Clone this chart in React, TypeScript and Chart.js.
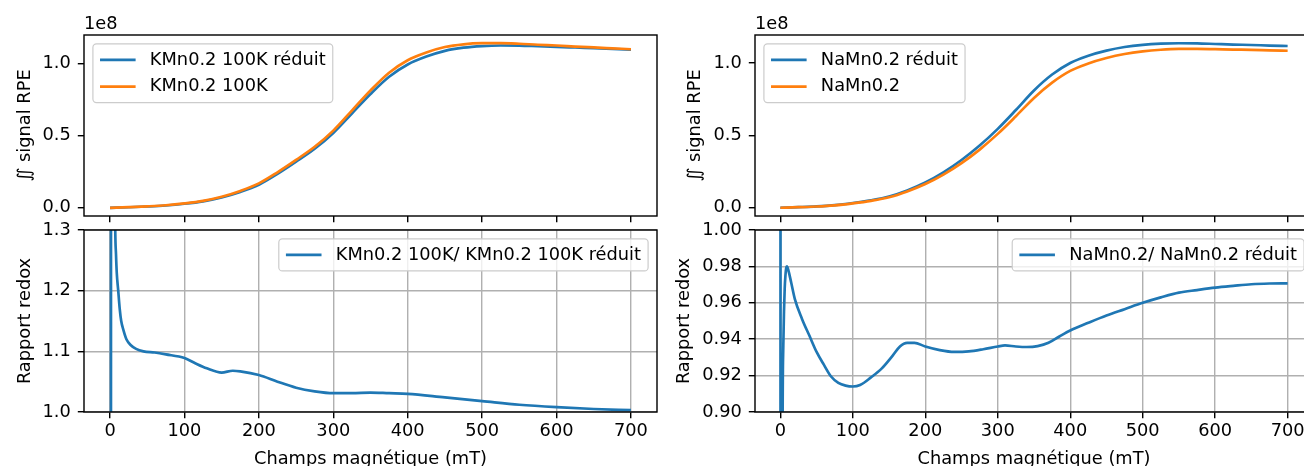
import React, { useEffect, useRef } from 'react';
import { Chart, registerables } from 'chart.js';

Chart.register(...registerables);

// ---- Data (integrated EPR signal in units of 1e8) ----
const fieldTop = [0, 25, 50, 75, 100, 125, 150, 175, 200, 225, 250, 275, 300, 325, 350, 375, 400, 425, 450, 475, 500, 525, 550, 575, 600, 625, 650, 675, 700];
const kmnReduit = [0, 0.004, 0.009, 0.016, 0.028, 0.045, 0.072, 0.11, 0.16, 0.235, 0.32, 0.41, 0.52, 0.655, 0.79, 0.91, 0.995, 1.05, 1.09, 1.112, 1.123, 1.127, 1.126, 1.122, 1.118, 1.113, 1.108, 1.103, 1.098];
const kmn = [0, 0.0045, 0.0099, 0.0175, 0.0305, 0.0484, 0.0768, 0.1174, 0.1698, 0.2468, 0.3328, 0.4239, 0.5361, 0.6753, 0.8153, 0.9382, 1.0249, 1.0784, 1.1162, 1.1354, 1.1432, 1.1439, 1.1395, 1.1321, 1.1269, 1.1197, 1.1135, 1.1074, 1.1013];
const namnReduit = [0, 0.004, 0.009, 0.018, 0.033, 0.052, 0.078, 0.12, 0.175, 0.245, 0.33, 0.43, 0.545, 0.675, 0.81, 0.92, 1.0, 1.05, 1.085, 1.11, 1.125, 1.133, 1.136, 1.135, 1.131, 1.127, 1.124, 1.12, 1.117];
const namn = [0, 0.0038, 0.0084, 0.0165, 0.0302, 0.0477, 0.0723, 0.1126, 0.1638, 0.2288, 0.3079, 0.4016, 0.5101, 0.6318, 0.7582, 0.8639, 0.945, 0.9965, 1.034, 1.0617, 1.08, 1.0911, 1.0969, 1.0975, 1.0951, 1.0924, 1.0905, 1.0871, 1.0843];

const fieldRatioK = [0, 1, 2, 3, 4, 5, 6, 7, 8, 9, 11, 13, 15, 18, 22, 28, 35, 45, 60, 75, 100, 115, 130, 150, 165, 175, 200, 225, 250, 275, 300, 325, 350, 375, 400, 450, 500, 550, 600, 650, 700];
const ratioK = [-2, -2.5, 12, 4, 2.2, 1.7, 1.45, 1.3, 1.26, 1.23, 1.2, 1.17, 1.15, 1.135, 1.12, 1.11, 1.104, 1.1, 1.098, 1.095, 1.089, 1.08, 1.072, 1.065, 1.068, 1.067, 1.061, 1.05, 1.04, 1.034, 1.031, 1.031, 1.032, 1.031, 1.03, 1.024, 1.018, 1.012, 1.008, 1.005, 1.003];

const fieldRatioNa = [0, 1, 2, 3, 4, 5, 6, 7, 8, 9, 11, 15, 20, 30, 40, 50, 60, 70, 80, 90, 100, 110, 125, 140, 155, 165, 175, 185, 200, 220, 240, 260, 280, 300, 310, 325, 340, 355, 370, 385, 400, 425, 450, 475, 500, 525, 550, 575, 600, 625, 650, 675, 700];
const ratioNa = [1.5, -1.0, 0.5, 0.88, 0.935, 0.955, 0.968, 0.975, 0.979, 0.98, 0.978, 0.971, 0.962, 0.951, 0.942, 0.933, 0.926, 0.9195, 0.916, 0.9145, 0.914, 0.9148, 0.919, 0.924, 0.931, 0.936, 0.938, 0.938, 0.936, 0.934, 0.933, 0.9333, 0.9345, 0.936, 0.9366, 0.936, 0.9357, 0.9362, 0.938, 0.9415, 0.9448, 0.949, 0.953, 0.9565, 0.96, 0.963, 0.9656, 0.967, 0.9683, 0.9693, 0.9702, 0.9706, 0.9707];

const xTicks = [0, 100, 200, 300, 400, 500, 600, 700];
const xTickLabels = ['0', '100', '200', '300', '400', '500', '600', '700'];
const signalTicks = [0, 0.5, 1.0];
const signalTickLabels = ['0.0', '0.5', '1.0'];
const ratioKTicks = [1.0, 1.1, 1.2, 1.3];
const ratioKTickLabels = ['1.0', '1.1', '1.2', '1.3'];
const ratioNaTicks = [0.9, 0.92, 0.94, 0.96, 0.98, 1.0];
const ratioNaTickLabels = ['0.90', '0.92', '0.94', '0.96', '0.98', '1.00'];

const xTitle = 'Champs magnétique (mT)';
const signalTitle = '∬ signal RPE';
const ratioTitle = 'Rapport redox';

// ---- Styles ----
const BLUE = '#1f77b4';
const ORANGE = '#ff7f0e';
const FS = 17.8;
const FAMILY = "'DejaVu Sans'";
const FONT = { family: FAMILY, size: FS };
const LW = 2.67;
const SPINE = 1.42;
const TICK_LEN = 6.2;

const mplPlugin = {
  id: 'mpl',
  afterDatasetsDraw(chart: any, _args: any, opts: any) {
    const { ctx, chartArea: a } = chart;
    ctx.save();
    ctx.strokeStyle = '#000';
    ctx.lineWidth = SPINE;
    ctx.strokeRect(a.left, a.top, a.right - a.left, a.bottom - a.top);

    ctx.font = `${FS}px ${FAMILY}`;
    if (opts.offsetText) {
      ctx.fillStyle = '#000';
      ctx.textAlign = 'left';
      ctx.textBaseline = 'alphabetic';
      ctx.fillText(opts.offsetText, a.left, a.top - 6);
    }
    const items = chart.data.datasets;
    const pad = 0.4 * FS, hl = 2 * FS, htp = 0.8 * FS, ls = 0.5 * FS, bap = 0.5 * FS, rowH = FS;
    const textW = Math.max(...items.map((d: any) => ctx.measureText(d.label).width));
    const w = pad + hl + htp + textW + pad;
    const h = 2 * pad + items.length * rowH + (items.length - 1) * ls;
    const x = opts.loc === 'upper right' ? a.right - bap - w : a.left + bap;
    const y = a.top + bap;
    ctx.beginPath();
    ctx.roundRect(x, y, w, h, 0.2 * FS);
    ctx.fillStyle = 'rgba(255,255,255,0.8)';
    ctx.fill();
    ctx.strokeStyle = '#cccccc';
    ctx.lineWidth = 1.2;
    ctx.stroke();
    items.forEach((d: any, i: number) => {
      const cy = y + pad + rowH / 2 + i * (rowH + ls);
      ctx.beginPath();
      ctx.strokeStyle = d.borderColor;
      ctx.lineWidth = LW;
      ctx.moveTo(x + pad, cy);
      ctx.lineTo(x + pad + hl, cy);
      ctx.stroke();
      ctx.fillStyle = '#000';
      ctx.textAlign = 'left';
      ctx.textBaseline = 'middle';
      ctx.fillText(d.label, x + pad + hl + htp, cy);
    });
    ctx.restore();
  },
};

type Series = { label: string; x: number[]; y: number[]; color: string };
type Spec = {
  box: { left: number; top: number; width: number; height: number };
  area: { left: number; top: number; right: number; bottom: number };
  series: Series[];
  yMin: number; yMax: number;
  yTicks: number[]; yTickLabels: string[];
  yTitle: string; yTitleX: number;
  showX: boolean; grid: boolean;
  legendLoc: string; offsetText?: string;
};

function Panel({ spec }: { spec: Spec }) {
  const ref = useRef<HTMLCanvasElement>(null);
  useEffect(() => {
    const s = spec;
    const n = s.series.length;
    const chart = new Chart(ref.current as HTMLCanvasElement, {
      type: 'line',
      data: {
        datasets: s.series.map((d, i) => ({
          label: d.label,
          data: d.x.map((x, j) => ({ x, y: d.y[j] })),
          borderColor: d.color,
          backgroundColor: d.color,
          borderWidth: LW,
          pointRadius: 0,
          pointHoverRadius: 0,
          cubicInterpolationMode: 'monotone',
          fill: false,
          order: n - i,
        })),
      },
      options: {
        animation: false,
        responsive: false,
        maintainAspectRatio: false,
        events: [],
        layout: { padding: { top: s.area.top, right: s.box.width - s.area.right, left: 0, bottom: 0 } },
        plugins: {
          legend: { display: false },
          tooltip: { enabled: false },
          mpl: { loc: s.legendLoc, offsetText: s.offsetText },
        } as any,
        scales: {
          x: {
            type: 'linear',
            min: -35,
            max: 735,
            afterBuildTicks: (ax: any) => { ax.ticks = xTicks.map((v) => ({ value: v })); },
            afterFit: (ax: any) => { ax.height = s.box.height - s.area.bottom; },
            ticks: {
              autoSkip: false, maxRotation: 0, minRotation: 0, padding: 3, font: FONT, color: '#000',
              callback: (_v: any, i: number) => (s.showX ? xTickLabels[i] : ''),
            },
            grid: {
              drawOnChartArea: s.grid, color: '#b0b0b0', lineWidth: SPINE,
              drawTicks: true, tickLength: TICK_LEN, tickColor: '#000', tickWidth: SPINE,
            },
            border: { display: false },
            title: { display: s.showX, text: xTitle, font: FONT, color: '#000', padding: { top: 0, bottom: 9.5 } },
          },
          y: {
            type: 'linear',
            min: s.yMin,
            max: s.yMax,
            afterBuildTicks: (ax: any) => { ax.ticks = s.yTicks.map((v) => ({ value: v })); },
            afterFit: (ax: any) => { ax.width = s.area.left; },
            ticks: {
              autoSkip: false, padding: 7, font: FONT, color: '#000',
              callback: (_v: any, i: number) => s.yTickLabels[i],
            },
            grid: {
              drawOnChartArea: s.grid, color: '#b0b0b0', lineWidth: SPINE,
              drawTicks: true, tickLength: TICK_LEN, tickColor: '#000', tickWidth: SPINE,
            },
            border: { display: false },
            title: { display: true, text: s.yTitle, font: FONT, color: '#000', padding: { top: s.yTitleX - (FS * 1.2) / 2, bottom: 0 } },
          },
        },
      } as any,
      plugins: [mplPlugin],
    });
    return () => chart.destroy();
  }, [spec]);
  const b = spec.box;
  return (
    <canvas
      ref={ref}
      width={b.width}
      height={b.height}
      style={{ position: 'absolute', left: b.left, top: b.top, width: b.width, height: b.height }}
    />
  );
}

const specs: Spec[] = [
  {
    box: { left: 0, top: 0, width: 680, height: 240 },
    area: { left: 84, top: 35, right: 657, bottom: 216 },
    series: [
      { label: 'KMn0.2 100K réduit', x: fieldTop, y: kmnReduit, color: BLUE },
      { label: 'KMn0.2 100K', x: fieldTop, y: kmn, color: ORANGE },
    ],
    yMin: -0.057, yMax: 1.2, yTicks: signalTicks, yTickLabels: signalTickLabels,
    yTitle: signalTitle, yTitleX: 25, showX: false, grid: false, legendLoc: 'upper left', offsetText: '1e8',
  },
  {
    box: { left: 0, top: 200, width: 680, height: 280 },
    area: { left: 84, top: 30, right: 657, bottom: 212 },
    series: [{ label: 'KMn0.2 100K/ KMn0.2 100K réduit', x: fieldRatioK, y: ratioK, color: BLUE }],
    yMin: 1.0, yMax: 1.3, yTicks: ratioKTicks, yTickLabels: ratioKTickLabels,
    yTitle: ratioTitle, yTitleX: 25, showX: true, grid: true, legendLoc: 'upper right',
  },
  {
    box: { left: 660, top: 0, width: 660, height: 240 },
    area: { left: 95, top: 35, right: 653, bottom: 216 },
    series: [
      { label: 'NaMn0.2 réduit', x: fieldTop, y: namnReduit, color: BLUE },
      { label: 'NaMn0.2', x: fieldTop, y: namn, color: ORANGE },
    ],
    yMin: -0.057, yMax: 1.193, yTicks: signalTicks, yTickLabels: signalTickLabels,
    yTitle: signalTitle, yTitleX: 35, showX: false, grid: false, legendLoc: 'upper left', offsetText: '1e8',
  },
  {
    box: { left: 660, top: 200, width: 660, height: 280 },
    area: { left: 95, top: 30, right: 653, bottom: 212 },
    series: [{ label: 'NaMn0.2/ NaMn0.2 réduit', x: fieldRatioNa, y: ratioNa, color: BLUE }],
    yMin: 0.9, yMax: 1.0, yTicks: ratioNaTicks, yTickLabels: ratioNaTickLabels,
    yTitle: ratioTitle, yTitleX: 24.5, showX: true, grid: true, legendLoc: 'upper right',
  },
];

export default function App() {
  return (
    <div style={{ position: 'fixed', left: 0, top: 0, width: 1304, height: 466, overflow: 'hidden', background: '#fff' }}>
      {specs.map((s, i) => (
        <Panel key={i} spec={s} />
      ))}
    </div>
  );
}
